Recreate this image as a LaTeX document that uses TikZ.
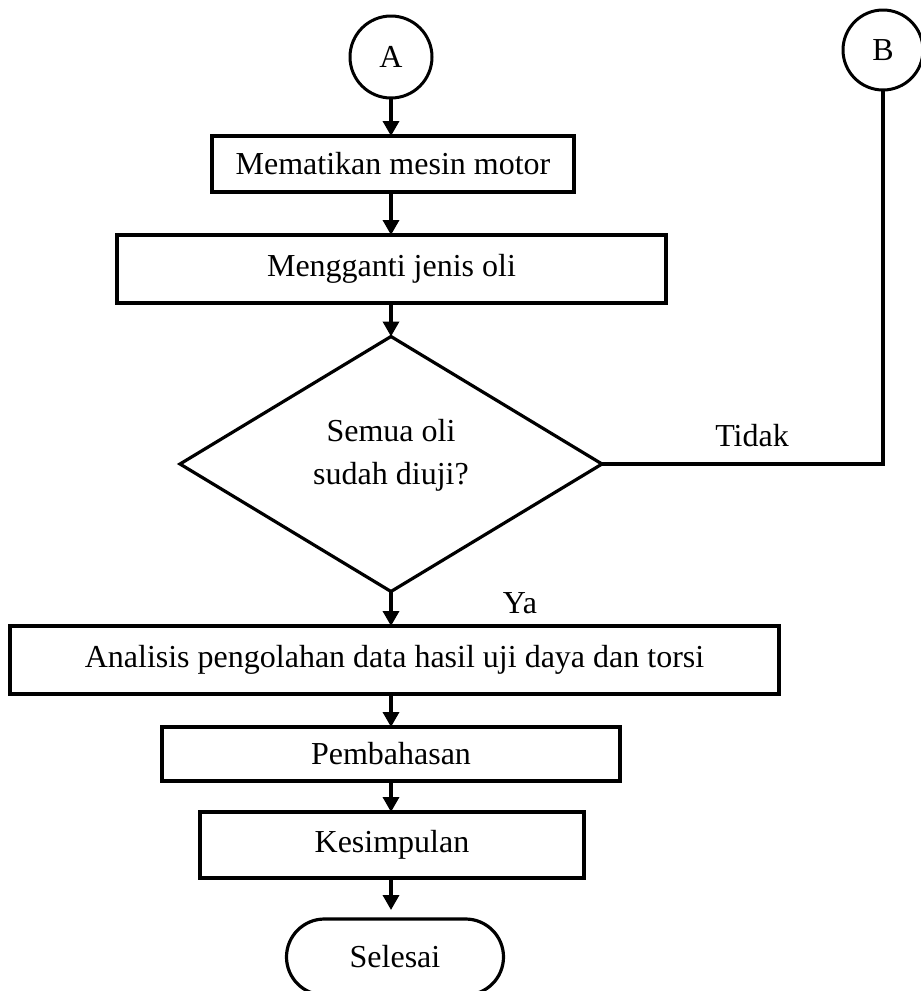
\documentclass[tikz,border=0pt]{standalone}
\usepackage{fontspec}
\setmainfont{Liberation Serif}
\usetikzlibrary{shapes.geometric,shapes.misc,arrows.meta}
\begin{document}
\begin{tikzpicture}[x=0.5pt,y=-0.5pt,
  every node/.style={font=\fontsize{16}{21.5}\selectfont, outer sep=0pt, inner sep=2pt},
  boxnode/.style={draw, line width=1.6pt, rectangle},
  conn/.style={draw, line width=1.7pt},
  connarrow/.style={conn, -{Triangle[length=7.5pt,width=8pt]}}]
\useasboundingbox (0,0) rectangle (921,991);
\node[draw, circle, line width=1.5pt, minimum size=41pt] (A) at (391,57) {A};
\node[draw, circle, line width=1.5pt, minimum size=40pt] (B) at (883,50) {B};
\node[boxnode, minimum width=181pt, minimum height=28pt] (b1) at (393,164) {Mematikan mesin motor};
\node[boxnode, minimum width=274.5pt, minimum height=34pt] (b2) at (391.5,269) {Mengganti jenis oli};
\node[draw, diamond, line width=1.6pt, minimum width=211pt, minimum height=127.5pt] (d) at (391,464) {};
\node[align=center] (dtext) at (391,455) {Semua oli\\sudah diuji?};
\node[boxnode, minimum width=384.5pt, minimum height=34pt] (b3) at (394.5,660) {Analisis pengolahan data hasil uji daya dan torsi};
\node[boxnode, minimum width=229pt, minimum height=27pt] (b4) at (391,754) {Pembahasan};
\node[boxnode, minimum width=192pt, minimum height=33pt] (b5) at (392,845) {Kesimpulan};
\node[draw, rounded rectangle, line width=1.6pt, minimum width=112.5pt, minimum height=38pt] (t) at (395,957) {Selesai};
\node (ltidak) at (752,436) {Tidak};
\node (lya) at (520,603) {Ya};
\draw[connarrow] (A.south) -- (A.south |- b1.north);
\draw[connarrow] (b1.south -| A) -- (b2.north -| A);
\draw[connarrow] (b2.south -| A) -- (d.north -| A);
\draw[connarrow] (d.south -| A) -- (b3.north -| A);
\draw[connarrow] (b3.south -| A) -- (b4.north -| A);
\draw[connarrow] (b4.south -| A) -- (b5.north -| A);
\draw[connarrow, shorten >=4.5pt] (b5.south -| A) -- (t.north -| A);
\draw[conn] (d.east) -- (d.east -| B.south) -- (B.south);
\end{tikzpicture}
\end{document}
